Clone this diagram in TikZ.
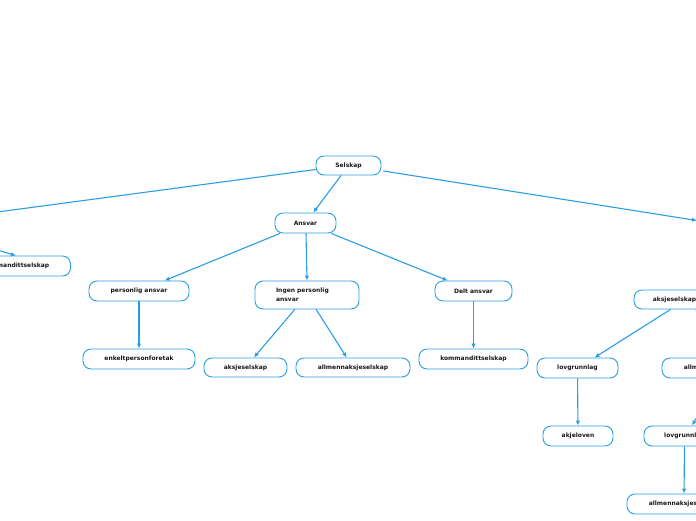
\documentclass[tikz,border=0pt]{standalone}
\usepackage{fontspec}
\setmainfont{DejaVu Sans}
\usetikzlibrary{arrows.meta}
\definecolor{mblue}{RGB}{42,157,229}
\definecolor{mtext}{RGB}{25,25,25}
\tikzset{
  box/.style={draw=mblue, line width=0.9pt, rounded corners=8pt, fill=white,
    minimum height=20pt, inner sep=0pt, text=mtext,
    font=\fontsize{6.0}{9}\selectfont\bfseries},
  conn/.style={draw=mblue, line width=1.1pt},
  arr/.style={conn, -{Latex[length=5pt,width=4.5pt]}}
}
\begin{document}
\begin{tikzpicture}[x=1pt,y=-1pt]
\useasboundingbox (0,0) rectangle (696,520);
\clip (0,0) rectangle (696,520);
% nodes
\node[box, minimum width=65pt, minimum height=19pt] (sel) at (348.5,165.5) {Selskap};
\node[box, minimum width=61pt] (ans) at (305.5,223) {Ansvar};
\node[box, minimum width=100pt] (per) at (139,291) {personlig ansvar};
\node[box, minimum width=104pt, minimum height=28pt, align=left, text width=62pt] (ing) at (307,295) {Ingen personlig\\ansvar};
\node[box, minimum width=77pt] (del) at (473.5,291) {Delt ansvar};
\node[box, minimum width=112pt] (enk) at (139,359) {enkeltpersonforetak};
\node[box, minimum width=83pt, minimum height=19pt] (as1) at (245.5,367.5) {aksjeselskap};
\node[box, minimum width=114pt, minimum height=19pt] (asa1) at (353,367.5) {allmennaksjeselskap};
\node[box, minimum width=109pt] (km1) at (473.5,359) {kommandittselskap};
\node[box, minimum width=109pt] (km2) at (16,266) {kommandittselskap};
\node[box, minimum width=81pt, minimum height=19pt] (as2) at (674.5,299.5) {aksjeselskap};
\node[box, minimum width=81pt] (lov1) at (577.5,368) {lovgrunnlag};
\node[box, minimum width=114pt] (asa2) at (719,368) {allmennaksjeselskap};
\node[box, minimum width=70pt] (akj) at (578,436) {akjeloven};
\node[box, minimum width=81pt] (lov2) at (684.5,436) {lovgrunnlag};
\node[box, minimum width=114pt] (asa3) at (684,504) {allmennaksjeselskap};
% free ends
\coordinate (L) at (-40,217);
\coordinate (R) at (697,220.5);
\coordinate (Lk) at (-30,242);
\coordinate (Ra) at (730,340);
\coordinate (Rl) at (712,392);
% connectors
\draw[conn] ([yshift=-4pt]sel.west) -- (L);
\draw[arr] ([xshift=2pt,yshift=-5.5pt]sel.east) -- (R);
\draw[arr] (sel) -- (ans);
\draw[arr] (ans) -- (per);
\draw[arr] ([xshift=0.5pt]ans.south) -- (ing.north);
\draw[arr] (ans) -- (del);
\draw[arr] (per) -- (enk);
\draw[arr] (ing) -- (as1);
\draw[arr] (ing) -- (asa1);
\draw[arr] (del) -- (km1);
\draw[arr] (Lk) -- (km2.north);
\draw[arr] ([xshift=-4pt]as2.south) -- ([xshift=17pt]lov1.north);
\draw[arr] (Ra) -- ([xshift=20.5pt]as2.south);
\draw[arr] (lov1) -- (akj);
\draw[arr] (Rl) -- ([xshift=7.5pt]lov2.north);
\draw[arr] (lov2) -- (asa3);
\end{tikzpicture}
\end{document}
